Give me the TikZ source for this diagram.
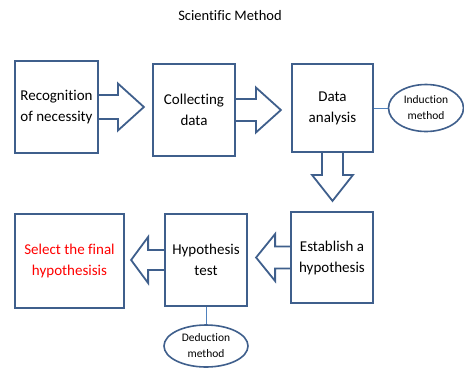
\documentclass[tikz,border=0pt]{standalone}
\usepackage{fontspec}
\setmainfont{Carlito}[Ligatures=NoCommon]
\usetikzlibrary{shapes.geometric}
\definecolor{boxblue}{HTML}{3F5F8C}
\definecolor{linkblue}{HTML}{4F81BD}
\tikzset{
  stepbox/.style={draw=boxblue,line width=1.8pt,fill=white,align=center,
    inner sep=0pt,font=\fontsize{15}{21}\selectfont},
  methodell/.style={ellipse,draw=boxblue,line width=1.6pt,fill=white,align=center,
    inner sep=0pt,font=\fontsize{11.5}{16}\selectfont},
  blockarrow/.style={draw=boxblue,line width=1.8pt,line join=miter},
  link/.style={draw=linkblue,line width=1pt}
}
\begin{document}
\begin{tikzpicture}[x=1pt,y=-1pt]
                \useasboundingbox (0,0) rectangle (464,368);
                \node at (230,16) {\fontsize{14.5}{16}\selectfont Scientific Method};
                % boxes
                \node[stepbox,minimum width=83pt,minimum height=92pt] (rec) at (56.5,107) {Recognition\\of necessity};
                \node[stepbox,minimum width=82pt,minimum height=92pt] (col) at (194,110) {Collecting\\data};
                \node[stepbox,minimum width=81pt,minimum height=88pt] (ana) at (332.5,108) {Data\\analysis};
                \node[stepbox,minimum width=82pt,minimum height=91pt] (est) at (332,257.5) {Establish a\\hypothesis};
                \node[stepbox,minimum width=82pt,minimum height=92pt] (tst) at (206,260) {Hypothesis\\test};
                \node[stepbox,minimum width=109pt,minimum height=94pt,text=red] (sel) at (69.5,261) {Select the final\\hypothesisis};
                % methods
                \node[methodell,minimum width=75pt,minimum height=47pt] (ind) at (426,108) {Induction\\method};
                \node[methodell,minimum width=84pt,minimum height=42pt] (ded) at (206,346) {Deduction\\method};
                \draw[link] (ana.east) -- (ind.west);
                \draw[link] (tst.south) -- (ded.north);
                % block arrows
                \draw[blockarrow] (rec.east) ++(0,-12) -- ++(19,0) -- ++(0,-11.5) -- ++(26,23.5) -- ++(-26,23.5) -- ++(0,-11.5) -- ++(-19,0);
                \draw[blockarrow] (col.east) ++(0,-11) -- ++(20,0) -- ++(0,-11.5) -- ++(25,22.5) -- ++(-25,22.5) -- ++(0,-11.5) -- ++(-20,0);
                \draw[blockarrow] (ana.south) ++(-10.5,0) -- ++(0,22) -- ++(-10,0) -- ++(20.5,26) -- ++(20.5,-26) -- ++(-10,0) -- ++(0,-22);
                \draw[blockarrow] (est.west) ++(0,-11) -- ++(-15,0) -- ++(0,-12.5) -- ++(-19,23.5) -- ++(19,23.5) -- ++(0,-12.5) -- ++(15,0);
                \draw[blockarrow] (tst.west) ++(0,-10) -- ++(-16,0) -- ++(0,-13) -- ++(-17,23) -- ++(17,23) -- ++(0,-13) -- ++(16,0);
\end{tikzpicture}
\end{document}
